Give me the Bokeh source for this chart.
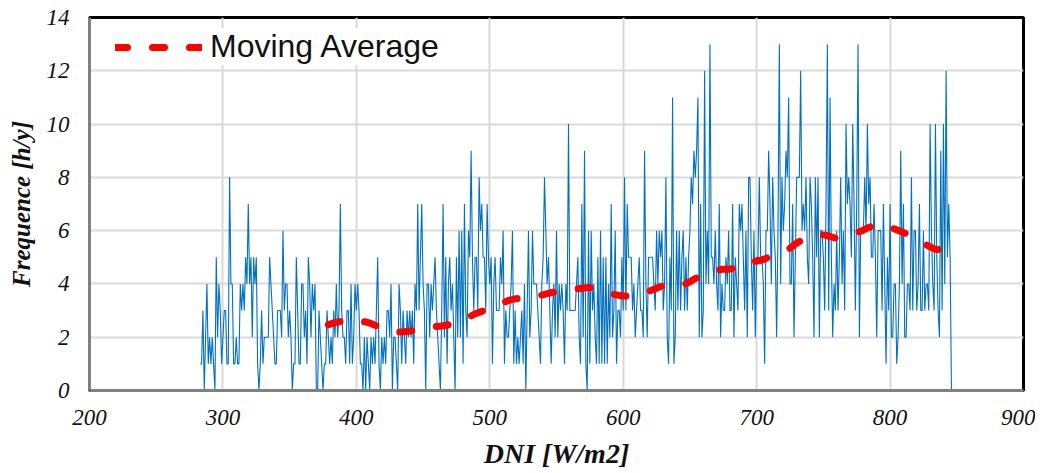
from bokeh.plotting import figure
from bokeh.models import Legend, LegendItem, FixedTicker
from bokeh.embed import file_html
from bokeh.resources import INLINE

# Frequency per DNI value (h/y), DNI from 283 to 848 W/m2, step 1
dni_start = 283
freq = [
    1,1,3,0,2,4,1,2,1,2, 1,0,5,2,4,3,1,2,3,3, 1,1,8,4,4,1,1,2,1,1,
    4,3,4,3,5,4,7,4,5,2, 5,4,5,1,0,1,3,1,2,2, 2,2,5,4,3,2,1,1,3,3,
    3,2,6,3,4,4,2,3,2,0, 1,1,5,3,1,1,4,4,2,3, 1,5,4,2,4,3,4,0,0,3,
    2,1,0,1,1,
    3,2,1,2,1,3,2,4,2,3, 7,3,2,2,1,3,3,1,4,1, 2,4,3,4,3,1,1,0,2,0,
    2,1,0,2,1,2,1,3,5,1, 0,2,1,2,1,3,3,2,4,0, 2,2,1,0,4,3,1,3,2,1,
    3,2,3,2,3,1,4,3,7,3, 5,7,4,3,0,4,4,2,4,3, 4,5,3,2,1,0,3,7,2,5,
    1,4,5,3,
    4,2,0,5,2,6,2,6,1,7, 3,2,6,5,9,5,3,5,5,3, 8,6,7,5,5,3,7,5,4,5,
    1,4,5,3,3,3,5,4,6,1, 3,2,2,3,4,6,1,3,1,2, 1,2,3,1,4,0,3,6,2,3,
    6,4,4,4,3,2,1,4,5,8, 6,4,5,3,1,3,4,2,6,2, 4,3,4,3,1,4,3,10,3,3,
    3,3,3,
    4,5,2,1,7,2,9,1,0,6, 1,6,3,4,2,1,5,1,6,1, 5,1,5,1,4,2,7,2,3,6,
    1,3,3,2,5,3,8,3,7,5, 5,5,3,4,2,3,4,5,3,3, 2,9,4,2,5,5,5,5,4,3,
    6,4,6,5,6,3,4,8,2,1, 5,3,11,1,2,6,3,6,3,5, 6,3,5,3,5,6,8,7,9,8,
    9,11,2,7,
    2,3,12,4,6,4,13,5,5,4, 6,4,3,7,2,4,3,3,5,4, 6,3,3,7,2,5,4,3,7,6,
    7,5,3,6,2,8,8,5,3,6, 2,5,5,8,5,5,4,1,6,6, 9,7,4,8,6,5,2,6,13,4,
    8,6,7,9,8,11,4,4,7,2, 5,8,8,8,12,6,7,6,8,5, 4,8,7,5,2,8,5,8,2,6,
    6,5,3,7,
    13,3,11,5,2,4,3,6,3,5, 8,4,6,3,10,7,8,7,5,10, 7,3,7,13,2,6,6,6,8,6,
    10,7,8,5,5,7,5,2,6,6, 6,3,7,4,1,5,3,7,2,2, 4,4,1,2,4,9,4,7,2,2,
    4,4,3,8,3,6,6,3,4,7, 3,3,6,3,4,4,3,10,6,4, 3,10,5,3,2,9,3,10,4,12,
    5,7,5,0,
    0,0,
]
dni = list(range(dni_start, dni_start + len(freq)))

# Moving average
ma_x = [379, 384, 389, 394, 399, 404, 409, 414, 419, 424, 429, 434, 439, 444, 449,
        454, 459, 464, 469, 474, 479, 484, 489, 494, 499, 504, 509, 514, 519, 524,
        529, 534, 539, 544, 549, 554, 559, 564, 569, 574, 579, 584, 589, 594, 599,
        604, 609, 614, 619, 624, 629, 634, 639, 644, 649, 654, 659, 664, 669, 674,
        679, 684, 689, 694, 699, 704, 709, 714, 719, 724, 729, 734, 739, 744, 749,
        754, 759, 764, 769, 774, 779, 784, 789, 794, 799, 804, 809, 814, 819, 824,
        829, 834, 839, 844, 849]
ma_y = [2.47, 2.55, 2.60, 2.65, 2.65, 2.60, 2.55, 2.45, 2.33, 2.25, 2.20, 2.20, 2.22, 2.27, 2.33,
        2.38, 2.40, 2.42, 2.47, 2.55, 2.62, 2.75, 2.88, 2.97, 3.08, 3.19, 3.28, 3.38, 3.44, 3.47,
        3.48, 3.52, 3.58, 3.65, 3.70, 3.72, 3.76, 3.80, 3.84, 3.87, 3.83, 3.76, 3.68, 3.60, 3.55,
        3.55, 3.58, 3.63, 3.72, 3.82, 3.92, 3.98, 3.97, 3.95, 4.05, 4.20, 4.30, 4.40, 4.50, 4.55,
        4.55, 4.60, 4.72, 4.80, 4.85, 4.90, 5.00, 5.10, 5.20, 5.30, 5.50, 5.65, 5.75, 5.82, 5.85,
        5.80, 5.72, 5.75, 5.82, 5.90, 6.00, 6.12, 6.22, 6.22, 6.14, 6.05, 5.95, 5.85, 5.72, 5.55,
        5.42, 5.30, 5.28, 5.38, 5.12]

x_ticks = [200, 300, 400, 500, 600, 700, 800, 900]
y_ticks = [0, 2, 4, 6, 8, 10, 12, 14]
x_title = "DNI [W/m2]"
y_title = "Frequence [h/y]"

p = figure(width=1035, height=472, x_range=(200, 900), y_range=(0, 14),
           output_backend="svg", toolbar_location=None,
           min_border_left=89, min_border_right=12, min_border_top=17, min_border_bottom=82)
p.background_fill_color = "white"
p.border_fill_color = "white"
p.outline_line_color = "black"
p.outline_line_width = 3

p.xaxis.ticker = FixedTicker(ticks=x_ticks)
p.yaxis.ticker = FixedTicker(ticks=y_ticks)
for ax in (p.xaxis, p.yaxis):
    ax.axis_line_color = "#808080"
    ax.axis_line_width = 3
    ax.major_tick_line_color = None
    ax.minor_tick_line_color = None
    ax.major_tick_in = 0
    ax.major_tick_out = 0
    ax.major_label_text_font = "Liberation Serif"
    ax.major_label_text_font_style = "italic"
    ax.major_label_text_font_size = "23px"
    ax.major_label_text_color = "#111111"
    ax.axis_label_text_font = "Liberation Serif"
    ax.axis_label_text_font_style = "bold italic"
    ax.axis_label_text_color = "#111111"
p.xaxis.axis_label = x_title
p.yaxis.axis_label = y_title
p.xaxis.axis_label_text_font_size = "28px"
p.yaxis.axis_label_text_font_size = "25px"
p.xaxis.major_label_standoff = 19
p.yaxis.major_label_standoff = 20
p.xaxis.axis_label_standoff = 10
p.yaxis.axis_label_standoff = 9

p.xgrid.ticker = FixedTicker(ticks=x_ticks)
p.ygrid.ticker = FixedTicker(ticks=y_ticks)
p.grid.grid_line_color = "#d9d9d9"
p.grid.grid_line_width = 2

p.line(dni, freq, line_color="#0070C0", line_width=1.1)
ma = p.line(ma_x, ma_y, line_color="#FF0000", line_width=7, line_dash="12 25",
            line_cap="round", line_join="round")

legend = Legend(items=[LegendItem(label="Moving Average", renderers=[ma])],
                location=(26, 325), orientation="vertical",
                background_fill_color="white", background_fill_alpha=1.0,
                border_line_color=None, padding=6, margin=0, spacing=0,
                glyph_width=87, label_standoff=8,
                label_text_font="Liberation Sans", label_text_font_size="32px",
                label_text_color="#111111")
p.add_layout(legend)

open("out.html", "w").write(file_html(p, INLINE))
